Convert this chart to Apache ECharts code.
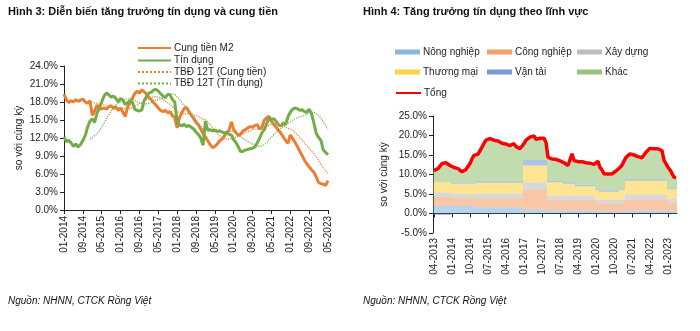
<!DOCTYPE html>
<html><head><meta charset="utf-8">
<script src="https://cdn.jsdelivr.net/npm/echarts@6/dist/echarts.min.js"></script>
<style>html,body{margin:0;padding:0;background:#fff}#c{width:700px;height:331px}</style>
</head><body><div id="c"></div>
<script>
// ---------- Left chart (Hình 3): monthly, 01-2014 .. 05-2023 ----------
const leftStart = [2014, 1];
const leftCount = 113;
const m2Growth = [19.3,18.4,17.9,18.2,18.0,18.4,18.1,18.3,18.5,18.0,17.8,18.2,
  15.8,16.5,17.5,16.8,16.9,17.0,16.8,17.2,17.4,16.9,17.2,16.6,
  17.0,16.3,15.6,17.2,17.8,18.6,19.4,19.8,19.5,20.0,19.7,19.3,
  18.8,18.4,17.9,17.5,17.0,16.6,16.4,16.6,16.2,16.4,15.7,15.4,
  13.7,15.4,16.2,16.9,17.1,16.4,15.8,15.2,14.6,14.2,13.5,12.7,
  12.2,11.5,10.9,10.4,10.6,11.0,11.5,11.8,12.3,12.9,13.3,14.7,
  13.4,12.9,12.4,12.7,13.2,13.4,13.7,13.9,13.8,14.1,14.2,13.5,
  13.8,15.0,15.4,15.6,14.8,14.3,13.8,13.3,12.8,12.2,11.6,11.1,
  12.5,11.9,11.3,10.6,9.8,9.1,8.3,7.7,7.2,6.7,6.3,5.5,
  4.6,4.4,4.3,4.1,4.9];
const creditGrowth = [12.2,11.4,11.6,11.2,10.6,11.0,10.5,10.9,11.6,12.4,13.8,14.8,
  15.2,14.6,16.2,16.9,18.0,19.0,19.5,19.2,18.8,19.0,18.6,18.0,
  18.6,18.3,17.6,17.9,18.2,18.0,16.8,16.6,16.5,16.7,18.2,18.9,
  19.5,19.6,20.0,20.1,19.8,19.4,19.0,18.7,19.3,19.2,18.4,18.0,
  14.6,14.2,14.0,14.3,13.9,14.1,13.8,13.5,13.0,12.6,12.0,10.8,
  14.8,13.3,13.4,13.2,13.3,13.1,13.2,13.0,12.8,13.0,12.6,12.5,
  11.7,11.2,10.5,9.7,9.8,10.0,10.1,10.2,10.3,10.5,11.2,12.0,
  12.9,13.4,14.4,15.3,15.1,15.2,14.8,14.2,14.0,14.5,14.2,15.5,
  16.3,16.8,17.0,16.9,16.6,16.7,16.4,16.3,16.8,16.1,14.5,12.8,
  12.1,11.6,10.0,9.6,9.2];
const m2Avg12 = [null,null,null,null,null,null,null,null,null,null,null,18.3,
  18.0,17.8,17.8,17.7,17.6,17.5,17.3,17.3,17.2,17.1,17.0,16.9,
  17.0,17.0,16.8,16.8,16.9,17.1,17.3,17.5,17.7,17.9,18.1,18.4,
  18.5,18.7,18.9,18.9,18.8,18.7,18.4,18.1,17.9,17.6,17.2,16.9,
  16.5,16.2,16.1,16.0,16.1,16.0,16.0,15.9,15.7,15.6,15.4,15.1,
  15.0,14.7,14.3,13.7,13.2,12.7,12.4,12.1,11.9,11.8,11.8,11.9,
  12.0,12.1,12.3,12.5,12.7,12.9,13.1,13.2,13.4,13.5,13.5,13.4,
  13.5,13.6,13.9,14.1,14.3,14.3,14.4,14.3,14.2,14.1,13.8,13.6,
  13.5,13.3,12.9,12.5,12.1,11.7,11.2,10.7,10.3,9.8,9.4,8.9,
  8.3,7.6,7.0,6.5,6.1];
const creditAvg12 = [null,null,null,null,null,null,null,null,null,null,null,11.8,
  12.1,12.4,12.7,13.2,13.8,14.5,15.2,15.9,16.5,17.1,17.5,17.8,
  18.0,18.3,18.5,18.5,18.6,18.5,18.3,18.0,17.8,17.7,17.6,17.7,
  17.8,17.9,18.1,18.3,18.4,18.5,18.7,18.9,19.1,19.3,19.3,19.3,
  18.8,18.4,17.9,17.4,16.9,16.5,16.0,15.6,15.1,14.5,14.0,13.4,
  13.4,13.3,13.3,13.2,13.2,13.1,13.0,13.0,13.0,13.0,13.0,13.2,
  12.9,12.8,12.5,12.2,11.9,11.7,11.4,11.2,11.0,10.8,10.6,10.6,
  10.7,10.9,11.2,11.7,12.1,12.6,12.9,13.3,13.6,13.9,14.2,14.5,
  14.7,15.0,15.2,15.4,15.5,15.6,15.8,15.9,16.2,16.3,16.3,16.1,
  15.8,15.3,14.7,14.1,13.5];
const leftYTicks = {min: 0, max: 24, interval: 3};

// ---------- Right chart (Hình 4): monthly, 04-2013 .. 05-2023 ----------
const rightStart = [2013, 4];
const rightCount = 122;
const tongGrowth = [11.0,11.2,11.5,12.0,12.8,13.1,13.0,12.6,12.3,11.9,11.8,11.6,
  11.5,11.2,10.7,10.6,11.3,11.0,12.8,14.0,14.9,14.5,15.2,15.7,
  17.0,18.0,18.8,19.3,19.2,19.0,18.8,19.0,18.6,18.3,18.0,18.2,
  17.8,17.7,17.4,17.0,17.9,17.2,16.7,16.6,16.5,17.9,18.8,19.3,
  19.6,19.8,19.9,19.0,19.4,19.3,19.0,19.3,18.2,14.4,14.2,14.0,
  14.1,13.9,13.7,13.5,13.3,13.0,12.8,12.3,12.6,15.3,13.6,13.4,
  13.3,13.2,13.3,13.1,13.0,13.1,12.9,12.8,12.6,12.8,13.4,11.8,
  11.2,10.2,10.0,10.1,10.3,10.2,10.5,10.9,11.0,11.8,12.4,12.8,
  14.4,14.9,15.3,15.2,15.0,14.5,14.6,14.7,14.3,14.4,15.7,16.2,
  16.7,16.8,16.6,16.5,16.6,16.4,16.1,13.6,12.8,11.8,11.2,10.8,
  9.3,9.2];
const nongNghiep = [2.0,2.0,2.0,2.0,2.0,2.0,2.0,2.0,2.0,
  2.0,2.0,2.0,2.0,2.0,2.0,2.0,2.0,2.0,2.0,2.0,2.0,
  1.6,1.6,1.6,1.6,1.6,1.6,1.6,1.6,1.6,1.6,1.6,1.6,1.6,1.6,1.6,1.6,1.6,1.6,1.6,1.6,1.6,1.6,1.6,1.6,
  1.0,1.0,1.0,1.0,1.0,1.0,1.0,1.0,1.0,1.0,1.0,1.0,
  0.8,0.8,0.8,0.8,0.8,0.8,0.8,0.8,0.8,0.8,0.8,0.8,0.8,0.8,0.8,0.8,0.8,0.8,0.8,0.8,0.8,0.8,0.8,0.8,
  0.6,0.6,0.6,0.6,0.6,0.6,0.6,0.6,0.6,0.6,0.6,0.6,0.6,0.6,0.6,
  0.8,0.8,0.8,0.8,0.8,0.8,0.8,0.8,0.8,0.8,0.8,0.8,0.8,0.8,0.8,0.8,0.8,0.8,0.8,0.8,0.8,
  0.6,0.6,0.6,0.6,0.6];
const congNghiep = [2.2,2.2,2.2,2.2,2.2,2.2,2.2,2.2,2.2,
  2.0,2.0,2.0,2.0,2.0,2.0,2.0,2.0,2.0,2.0,2.0,2.0,
  2.3,2.3,2.3,2.3,2.3,2.3,2.3,2.3,2.3,2.3,2.3,2.3,2.3,2.3,2.3,2.3,2.3,2.3,2.3,2.3,2.3,2.3,2.3,2.3,
  5.0,5.0,5.0,5.0,5.0,5.0,5.0,5.0,5.0,5.0,5.0,5.0,
  2.6,2.6,2.6,2.6,2.6,2.6,2.6,2.6,2.6,2.6,2.6,2.6,2.6,2.6,2.6,2.6,2.6,2.6,2.6,2.6,2.6,2.6,2.6,2.6,
  2.0,2.0,2.0,2.0,2.0,2.0,2.0,2.0,2.0,2.0,2.0,2.0,2.0,2.0,2.0,
  2.8,2.8,2.8,2.8,2.8,2.8,2.8,2.8,2.8,2.8,2.8,2.8,2.8,2.8,2.8,2.8,2.8,2.8,2.8,2.8,2.8,
  2.2,2.2,2.2,2.2,2.2];
const xayDung = [1.2,1.2,1.2,1.2,1.2,1.2,1.2,1.2,1.2,
  1.0,1.0,1.0,1.0,1.0,1.0,1.0,1.0,1.0,1.0,1.0,1.0,
  1.2,1.2,1.2,1.2,1.2,1.2,1.2,1.2,1.2,1.2,1.2,1.2,1.2,1.2,1.2,1.2,1.2,1.2,1.2,1.2,1.2,1.2,1.2,1.2,
  2.0,2.0,2.0,2.0,2.0,2.0,2.0,2.0,2.0,2.0,2.0,2.0,
  1.2,1.2,1.2,1.2,1.2,1.2,1.2,1.2,1.2,1.2,1.2,1.2,1.2,1.2,1.2,1.2,1.2,1.2,1.2,1.2,1.2,1.2,1.2,1.2,
  1.0,1.0,1.0,1.0,1.0,1.0,1.0,1.0,1.0,1.0,1.0,1.0,1.0,1.0,1.0,
  1.3,1.3,1.3,1.3,1.3,1.3,1.3,1.3,1.3,1.3,1.3,1.3,1.3,1.3,1.3,1.3,1.3,1.3,1.3,1.3,1.3,
  1.0,1.0,1.0,1.0,1.0];
const thuongMai = [2.6,2.6,2.6,2.6,2.6,2.6,2.6,2.6,2.6,
  2.6,2.6,2.6,2.6,2.6,2.6,2.6,2.6,2.6,2.6,2.6,2.6,
  2.8,2.8,2.8,2.8,2.8,2.8,2.8,2.8,2.8,2.8,2.8,2.8,2.8,2.8,2.8,2.8,2.8,2.8,2.8,2.8,2.8,2.8,2.8,2.8,
  4.3,4.3,4.3,4.3,4.3,4.3,4.3,4.3,4.3,4.3,4.3,4.3,
  3.4,3.4,3.4,3.4,3.4,3.4,3.4,3.4,3.0,3.0,3.0,3.0,3.0,3.0,2.4,2.4,2.4,2.4,2.4,2.4,2.4,2.4,2.4,2.4,
  2.5,2.5,2.0,2.0,2.0,2.0,2.0,2.0,2.0,2.0,2.0,2.0,2.5,2.5,2.5,
  3.5,3.5,3.5,3.5,3.5,3.5,3.5,3.5,3.5,3.5,3.5,3.5,3.5,3.5,3.5,3.5,3.5,3.5,3.5,3.5,3.5,
  2.4,2.4,2.4,2.4,2.4];
const vanTai = [-0.4,-0.4,-0.4,-0.4,-0.4,-0.4,-0.4,-0.4,-0.4,
  0.3,0.3,0.3,0.3,0.3,0.3,0.3,0.3,0.3,0.3,0.3,0.3,
  0.4,0.4,0.4,0.4,0.4,0.4,0.4,0.4,0.4,0.4,0.4,0.4,0.4,0.4,0.4,0.4,0.4,0.4,0.4,0.4,0.4,0.4,0.4,0.4,
  1.5,1.5,1.5,1.5,1.5,1.5,1.5,1.5,1.5,1.5,1.5,1.5,
  0.4,0.4,0.4,0.4,0.4,0.4,0.4,0.4,0.4,0.4,0.4,0.4,0.4,0.4,0.4,0.4,0.4,0.4,0.4,0.4,0.4,0.4,0.4,0.4,
  0.3,0.3,0.3,0.3,0.3,0.3,0.3,0.3,0.3,0.3,0.3,0.3,0.3,0.3,0.3,
  0.4,0.4,0.4,0.4,0.4,0.4,0.4,0.4,0.4,0.4,0.4,0.4,0.4,0.4,0.4,0.4,0.4,0.4,0.4,0.4,0.4,
  0.3,0.3,0.3,0.3,0.3];
const khac = [3.0,3.2,3.5,4.0,4.8,5.1,5.0,4.6,4.3,
  4.0,3.9,3.7,3.6,3.3,2.8,2.7,3.4,3.1,4.9,6.1,7.0,
  6.2,6.9,7.4,8.7,9.7,10.5,11.0,10.9,10.7,10.5,10.7,10.3,10.0,9.7,9.9,9.5,9.4,9.1,8.7,9.6,8.9,8.4,8.3,8.2,
  4.1,5.0,5.5,5.8,6.0,6.1,5.2,5.6,5.5,5.2,5.5,4.4,
  6.0,5.8,5.6,5.7,5.5,5.3,5.1,4.9,5.0,4.8,4.3,4.6,7.3,5.6,6.0,5.9,5.8,5.9,5.7,5.6,5.7,5.5,5.4,5.2,
  6.4,7.0,5.9,5.3,4.3,4.1,4.2,4.4,4.3,4.6,5.0,5.1,5.4,6.0,6.4,
  5.6,6.1,6.5,6.4,6.2,5.7,5.8,5.9,5.5,5.6,6.9,7.4,7.9,8.0,7.8,7.7,7.8,7.6,7.3,4.8,4.0,
  5.3,4.7,4.3,2.8,2.7];
const rightYTicks = {min: -5, max: 25, interval: 5};

function monthLabels(start, n) {
  const out = [];
  let y = start[0], m = start[1];
  for (let i = 0; i < n; i++) {
    out.push((m < 10 ? '0' : '') + m + '-' + y);
    m++; if (m > 12) { m = 1; y++; }
  }
  return out;
}
const leftCats = monthLabels(leftStart, leftCount);
const rightCats = monthLabels(rightStart, rightCount);

const FONT = 'Liberation Sans';
const TXT = '#222';
const pct = v => v.toFixed(1) + '%';

const sectorDefs = [
  ['Nông nghiệp', nongNghiep, '#5B9BD5'],
  ['Công nghiệp', congNghiep, '#ED7D31'],
  ['Xây dựng', xayDung, '#A5A5A5'],
  ['Thương mại', thuongMai, '#FFC000'],
  ['Vận tải', vanTai, '#4472C4'],
  ['Khác', khac, '#70AD47']
];

const chart = echarts.init(document.getElementById('c'), null, {renderer: 'canvas'});

function lg(name, left, top, w, h, isLine) {
  const o = {data: [name], left: left, top: top, padding: 0, itemWidth: w, itemHeight: h,
    itemGap: 0, selectedMode: false, textStyle: {fontSize: 10, color: TXT, fontFamily: FONT, padding: [0,0,0,-2]}};
  if (isLine) o.itemStyle = {opacity: 0};
  else o.icon = 'rect';
  return o;
}

const series = [
  {name: 'Cung tiền M2', type: 'line', xAxisIndex: 0, yAxisIndex: 0, data: m2Growth, symbol: 'none',
   lineStyle: {color: '#ED7D31', width: 3}, itemStyle: {color: '#ED7D31'}, z: 3},
  {name: 'Tín dụng', type: 'line', xAxisIndex: 0, yAxisIndex: 0, data: creditGrowth, symbol: 'none',
   lineStyle: {color: '#70AD47', width: 3}, itemStyle: {color: '#70AD47'}, z: 4},
  {name: 'TBĐ 12T (Cung tiền)', type: 'line', xAxisIndex: 0, yAxisIndex: 0, data: m2Avg12, symbol: 'none',
   lineStyle: {color: '#ED7D31', width: 1.2, type: 'dotted'}, itemStyle: {color: '#ED7D31'}, z: 5},
  {name: 'TBĐ 12T (Tín dụng)', type: 'line', xAxisIndex: 0, yAxisIndex: 0, data: creditAvg12, symbol: 'none',
   lineStyle: {color: '#70AD47', width: 1.2, type: 'dotted'}, itemStyle: {color: '#70AD47'}, z: 5}
];
sectorDefs.forEach(d => series.push({
  name: d[0], type: 'bar', stack: 'sector', xAxisIndex: 1, yAxisIndex: 1, data: d[1],
  barCategoryGap: '40%', itemStyle: {color: d[2], opacity: 0.72}
}));
series.push({name: 'Tổng', type: 'line', xAxisIndex: 1, yAxisIndex: 1, data: tongGrowth, symbol: 'none',
  lineStyle: {color: '#FF0000', width: 3.5}, itemStyle: {color: '#FF0000'}, z: 10});

const axisLineStyle = {show: true, lineStyle: {color: '#222', width: 1}};

chart.setOption({
  animation: false,
  textStyle: {fontFamily: FONT},
  title: [
    {text: 'Hình 3: Diễn biến tăng trưởng tín dụng và cung tiền', left: 8, top: 6, padding: 0,
     textStyle: {fontSize: 11, fontWeight: 'bold', color: '#111', fontFamily: FONT}},
    {text: 'Hình 4: Tăng trưởng tín dụng theo lĩnh vực', left: 363, top: 6, padding: 0,
     textStyle: {fontSize: 11, fontWeight: 'bold', color: '#111', fontFamily: FONT}},
    {text: 'Nguồn: NHNN, CTCK Rồng Việt', left: 8, top: 296, padding: 0,
     textStyle: {fontSize: 10, fontStyle: 'italic', fontWeight: 'normal', color: '#111', fontFamily: FONT}},
    {text: 'Nguồn: NHNN, CTCK Rồng Việt', left: 363, top: 296, padding: 0,
     textStyle: {fontSize: 10, fontStyle: 'italic', fontWeight: 'normal', color: '#111', fontFamily: FONT}}
  ],
  legend: [
    lg('Cung tiền M2', 137, 43, 33, 10, true),
    lg('Tín dụng', 137, 55.5, 33, 10, true),
    lg('TBĐ 12T (Cung tiền)', 137, 67, 33, 10, true),
    lg('TBĐ 12T (Tín dụng)', 137, 78.5, 33, 10, true),
    lg('Nông nghiệp', 395, 47, 25, 5, false),
    lg('Công nghiệp', 487, 47, 25, 5, false),
    lg('Xây dựng', 577, 47, 25, 5, false),
    lg('Thương mại', 395, 67, 25, 5, false),
    lg('Vận tải', 487, 67, 25, 5, false),
    lg('Khác', 577, 67, 25, 5, false),
    lg('Tổng', 395, 88, 25, 10, true)
  ],
  grid: [
    {left: 64, top: 66, width: 264, height: 144},
    {left: 433, top: 116, width: 244, height: 117}
  ],
  xAxis: [
    {type: 'category', gridIndex: 0, data: leftCats, boundaryGap: false,
     axisLine: axisLineStyle, axisTick: {show: true, interval: 7, length: 4, lineStyle: {color: '#222'}},
     axisLabel: {interval: 7, rotate: 90, fontSize: 10, color: TXT, margin: 6, fontFamily: FONT},
     splitLine: {show: false}},
    {type: 'category', gridIndex: 1, data: rightCats, boundaryGap: true,
     axisLine: {show: true, onZero: true, lineStyle: {color: '#222', width: 1}},
     axisTick: {show: true, interval: 8, alignWithLabel: true, length: 4, lineStyle: {color: '#222'}},
     axisLabel: {show: false}, splitLine: {show: false}},
    {type: 'category', gridIndex: 1, data: rightCats, boundaryGap: true, position: 'bottom',
     axisLine: {show: false, onZero: false}, axisTick: {show: false},
     axisLabel: {interval: 8, rotate: 90, fontSize: 10, color: TXT, margin: 5, fontFamily: FONT},
     splitLine: {show: false}}
  ],
  yAxis: [
    {type: 'value', gridIndex: 0, min: leftYTicks.min, max: leftYTicks.max, interval: leftYTicks.interval,
     name: 'so với cùng kỳ', nameLocation: 'middle', nameRotate: 90, nameGap: 40,
     nameTextStyle: {fontSize: 10, color: TXT, fontFamily: FONT},
     axisLine: axisLineStyle, axisTick: {show: true, length: 4, lineStyle: {color: '#222'}},
     axisLabel: {formatter: pct, fontSize: 10, color: TXT, margin: 6, fontFamily: FONT},
     splitLine: {show: false}},
    {type: 'value', gridIndex: 1, min: rightYTicks.min, max: rightYTicks.max, interval: rightYTicks.interval,
     name: 'so với cùng kỳ', nameLocation: 'middle', nameRotate: 90, nameGap: 44,
     nameTextStyle: {fontSize: 10, color: TXT, fontFamily: FONT},
     axisLine: axisLineStyle, axisTick: {show: true, length: 4, lineStyle: {color: '#222'}},
     axisLabel: {formatter: pct, fontSize: 10, color: TXT, margin: 6, fontFamily: FONT},
     splitLine: {show: false}}
  ],
  series: series
});
</script>
</body></html>
